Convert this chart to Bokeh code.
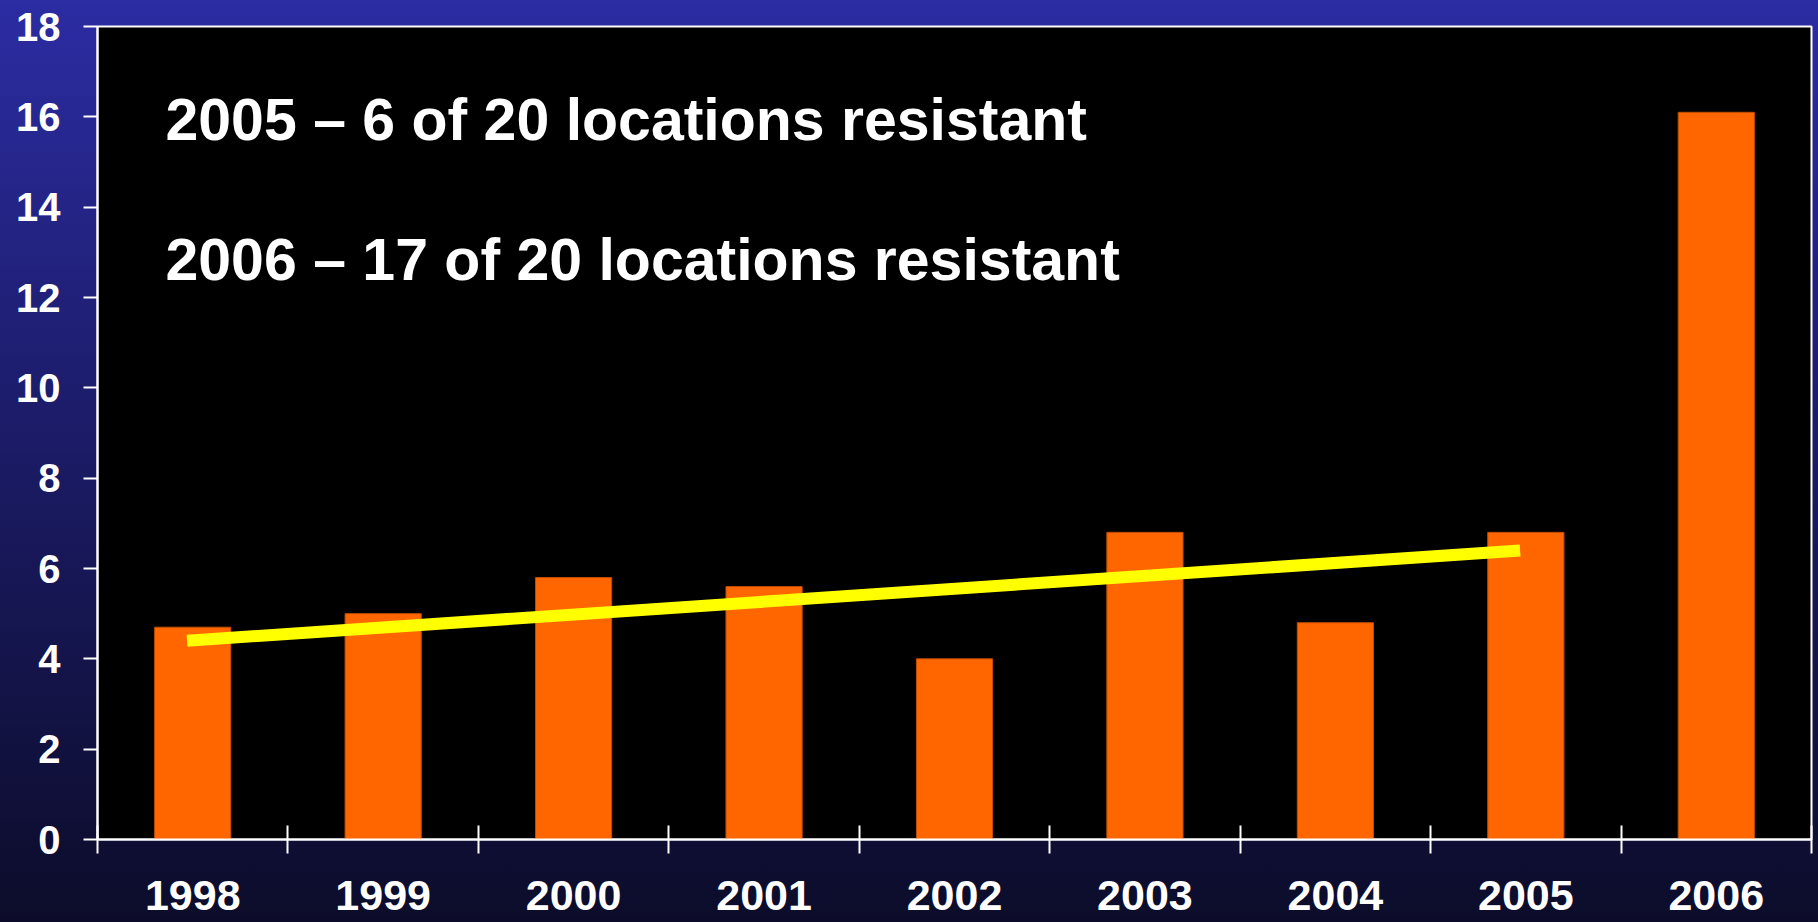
from bokeh.plotting import figure
from bokeh.models import Range1d, FixedTicker, Label
from bokeh.embed import file_html
from bokeh.resources import INLINE

# ---- data ----
years = ["1998", "1999", "2000", "2001", "2002", "2003", "2004", "2005", "2006"]
values = [4.7, 5.0, 5.8, 5.6, 4.0, 6.8, 4.8, 6.8, 16.1]
trend_years = ["1998", "2005"]
trend_values = [4.4, 6.4]
notes = ["2005 \u2013 6 of 20 locations resistant",
         "2006 \u2013 17 of 20 locations resistant"]
y_ticks = list(range(0, 19, 2))

FONT = "Liberation Sans"

idx = list(range(len(years)))
p = figure(frame_width=1714, frame_height=813,
           x_range=Range1d(-0.5, len(years) - 0.5), y_range=Range1d(0, 18),
           output_backend="svg", toolbar_location=None,
           min_border_left=97, min_border_right=7, min_border_top=26, min_border_bottom=83)

p.background_fill_color = "black"
p.border_fill_color = None
p.outline_line_color = "white"
p.outline_line_width = 2
p.xgrid.visible = False
p.ygrid.visible = False
p.styles = {"background": "linear-gradient(to bottom, #2c2ca3 0%, #1c1c6a 45%, #0c0c2a 100%)"}

# bars
p.vbar(x=idx, top=values, width=0.4, fill_color="#FF6600",
       line_color="#C04E00", line_width=1)

# trend line
tx = [years.index(y) - 0.03 for y in trend_years]
p.line(x=tx, y=trend_values, line_width=12, line_color="#FFFF00")

# notes
note_y = [15.93, 12.83]
for t, yy in zip(notes, note_y):
    p.add_layout(Label(x=-0.143, y=yy, text=t, text_font=FONT, text_font_style="bold",
                       text_font_size="59px", text_color="white",
                       text_baseline="alphabetic", text_align="left"))

# x axis
xa = p.xaxis[0]
xa.ticker = FixedTicker(ticks=idx, minor_ticks=[i - 0.5 for i in range(len(years) + 1)])
xa.major_label_overrides = {i: y for i, y in zip(idx, years)}
xa.major_tick_in = 0
xa.major_tick_out = 0
xa.minor_tick_in = 14
xa.minor_tick_out = 14
xa.minor_tick_line_color = "white"
xa.minor_tick_line_width = 2
xa.axis_line_color = "white"
xa.axis_line_width = 2
xa.major_label_text_font = FONT
xa.major_label_text_font_style = "bold"
xa.major_label_text_font_size = "43px"
xa.major_label_text_color = "white"
xa.major_label_standoff = 27

# y axis
ya = p.yaxis[0]
ya.ticker = FixedTicker(ticks=y_ticks, minor_ticks=[])
ya.major_tick_in = 0
ya.major_tick_out = 14
ya.major_tick_line_color = "white"
ya.major_tick_line_width = 2
ya.minor_tick_in = 0
ya.minor_tick_out = 0
ya.axis_line_color = "white"
ya.axis_line_width = 2
ya.major_label_text_font = FONT
ya.major_label_text_font_style = "bold"
ya.major_label_text_font_size = "40px"
ya.major_label_text_color = "white"
ya.major_label_standoff = 23

open("out.html", "w").write(file_html(p, INLINE))
